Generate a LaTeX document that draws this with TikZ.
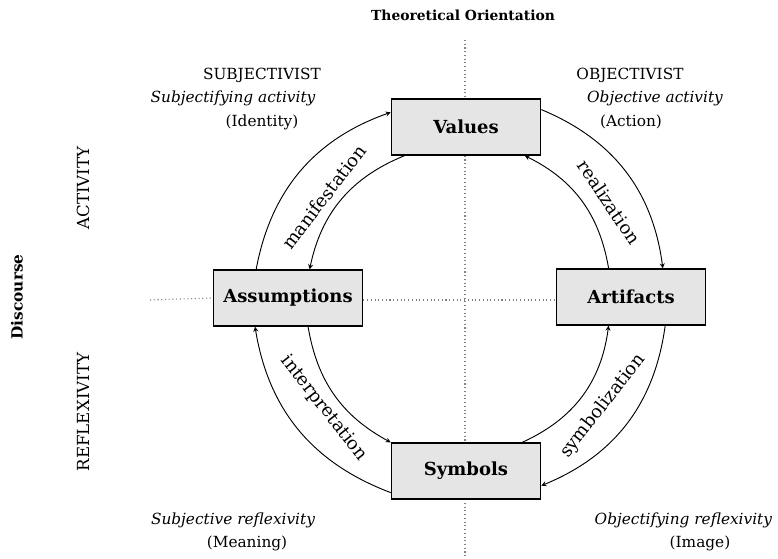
\documentclass[tikz,border=0pt]{standalone}
\usepackage{fontspec}
\setmainfont{DejaVu Serif}
\usepackage{tikz}
\usetikzlibrary{positioning}

\begin{document}
\begin{tikzpicture}[x=0.75pt, y=0.75pt, >=stealth,
  thick, concept/.style={draw, line width=1pt, fill=black!10, minimum width=112pt,
    minimum height=42pt, font=\bfseries\fontsize{13.5}{16}\selectfont},
  flow/.style={->, line width=0.7pt},
  axis/.style={dotted, gray, line width=0.8pt},
  caption/.style={font=\fontsize{11.5}{14}\selectfont},
  arclabel/.style={font=\fontsize{13.5}{16}\selectfont}]

\useasboundingbox (0,0) rectangle (778,-559);

\coordinate (axtop) at (465,-40);
\coordinate (axbottom) at (465,-559);
\coordinate (axleft) at (150,-300);

\draw[axis] (axtop) -- (axbottom);

\node[concept] (values) at (466,-127) {Values};
\node[concept] (assumptions) at (288,-298) {Assumptions};
\node[concept] (artifacts) at (631,-297) {Artifacts};
\node[concept] (symbols) at (466,-471) {Symbols};

\draw[axis] (axleft) -- (assumptions.west);
\draw[axis] (assumptions.east |- axleft) -- (artifacts.west |- axleft);

\node[font=\bfseries\fontsize{10.4}{12}\selectfont] (orientation) at (463,-15) {Theoretical Orientation};
\node[font=\bfseries\fontsize{11.5}{13}\selectfont, rotate=90] (discourse) at (17,-297) {Discourse};
\node[caption, font=\fontsize{12.5}{14}\selectfont, rotate=90] (activity) at (83,-188) {ACTIVITY};
\node[caption, font=\fontsize{12.5}{14}\selectfont, rotate=90] (reflexivity) at (83,-412) {REFLEXIVITY};

\node[caption] (subjectivist) at (262,-75) {SUBJECTIVIST};
\node[caption] (subjact) at (233,-98) {\itshape Subjectifying activity};
\node[caption] (identity) at (262,-122) {(Identity)};
\node[caption] (objectivist) at (630,-75) {OBJECTIVIST};
\node[caption] (objact) at (655,-98) {\itshape Objective activity};
\node[caption] (action) at (631,-122) {(Action)};
\node[caption] (subjrefl) at (233,-520) {\itshape Subjective reflexivity};
\node[caption] (meaning) at (247,-543) {(Meaning)};
\node[caption, anchor=east] (objrefl) at (777,-520) {\itshape Objectifying reflexivity};
\node[caption] (image) at (700,-543) {(Image)};

% cycle
\draw[flow] (assumptions.138) to[bend left=30] (values.169);
\draw[flow] (values.205) to[bend right=28] (assumptions.53);
\draw[flow] (values.13) to[bend left=30] (artifacts.42);
\draw[flow] (artifacts.128) to[bend right=27] (values.334);
\draw[flow] (symbols.27) to[bend right=29] (artifacts.232);
\draw[flow] (artifacts.320) to[bend left=30] (symbols.349);
\draw[flow] (symbols.196) to[bend left=30] (assumptions.221);
\draw[flow] (assumptions.305) to[bend right=26] (symbols.north west);

\node[arclabel, rotate=53] (manifestation) at (324,-197) {manifestation};
\node[arclabel, rotate=-56] (realization) at (609,-202) {realization};
\node[arclabel, rotate=-52] (interpretation) at (324,-408) {interpretation};
\node[arclabel, rotate=52] (symbolization) at (603,-406) {symbolization};

\end{tikzpicture}
\end{document}
